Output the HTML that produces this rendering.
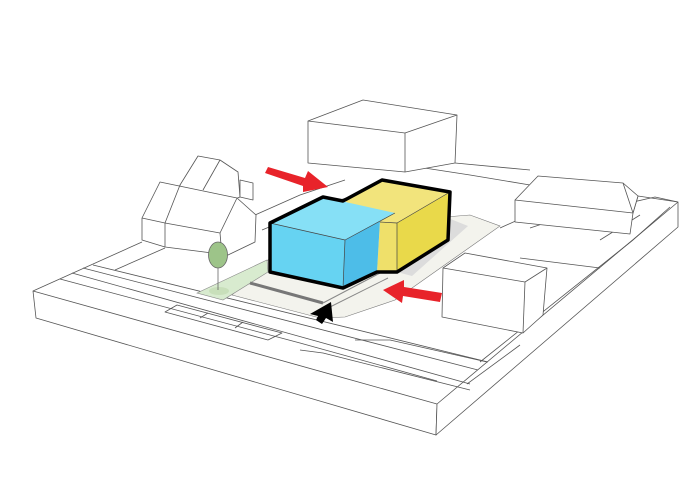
<!DOCTYPE html>
<html><head><meta charset="utf-8"><style>html,body{margin:0;padding:0;background:#fff}svg{display:block}</style></head>
<body>
<svg width="700" height="490" viewBox="0 0 700 490" xmlns="http://www.w3.org/2000/svg">
<g fill="none" stroke="#555" stroke-width="0.8" stroke-linejoin="round">
<polygon points="33,291 36,318 436,435 437,404" fill="#fff"/>
<polygon points="437,404 436,435 678,227 678,202" fill="#fff"/>
<line x1="33" y1="291" x2="142" y2="242"/>
<polyline points="638,196 678,202"/>
<polyline points="620,205 655,197 678,202"/>
<polyline points="60,279 300,343 437,381"/>
<polyline points="72,273 470,384"/>
<polyline points="83,268 478,370"/>
<polyline points="93,265 488,362"/>
<polyline points="115,270 165,248"/>
<polyline points="355,340 390,340 487,362"/>
<polyline points="480,362 633,240 670,207"/>
<polyline points="467,384 520,345"/>
<polyline points="300,350 323,353 470,390"/>
<polygon points="165,312 177,305 282,333 268,340"/>
<line x1="200" y1="318" x2="208" y2="313"/><line x1="235" y1="328" x2="243" y2="322"/>
<polyline points="255,215 300,195 345,180"/>
<polyline points="262,230 310,210 355,195"/>
<polyline points="405,165 470,175 530,185"/>
<polyline points="455,163 530,170"/>
<polyline points="500,228 540,210 560,195 590,185"/>
<polyline points="530,228 600,205"/>
<polyline points="600,240 640,215"/>
<polyline points="520,258 600,268"/>
</g>
<polygon points="232,295 268,260 345,225 470,215 500,226 395,300 345,317 320,318" fill="#f3f3ed" stroke="#777" stroke-width="0.6"/>
<polygon points="197,293 267,260 268,272 223,300" fill="#d8ebcf" stroke="#888" stroke-width="0.6"/>
<ellipse cx="219" cy="291" rx="10" ry="4" fill="#c8dfba"/>
<polygon points="448,218 468,226 412,276 397,272 448,240" fill="#dcdcdc"/>
<polyline points="250,283 323,303" stroke="#777" stroke-width="3" fill="none"/>
<polyline points="323,303 382,272" stroke="#888" stroke-width="1" fill="none"/>
<polyline points="328,308 388,278" stroke="#888" stroke-width="1" fill="none"/>
<g fill="#fff" stroke="#555" stroke-width="0.8" stroke-linejoin="round">
<polygon points="180,185 198,156 220,160 238,172 240,197 220,205 180,195"/>
<line x1="220" y1="160" x2="203" y2="190"/>
<polygon points="240,180 253,183 253,200 240,197"/>
<polygon points="142,218 160,182 237,198 256,215 255,242 228,255 165,247 142,240"/>
<polyline points="142,218 165,223 220,233 237,198"/>
<polyline points="165,223 180,185"/>
<line x1="165" y1="223" x2="165" y2="247"/>
<polyline points="220,233 222,256"/>
<polygon points="308,121 363,100 457,115 455,163 405,172 308,163"/>
<polyline points="308,121 405,133 457,115"/>
<line x1="405" y1="133" x2="405" y2="172"/>
<polygon points="515,200 538,176 623,183 638,196 633,213 630,234 515,222"/>
<polyline points="515,200 633,213 638,196"/>
<line x1="623" y1="183" x2="633" y2="213"/>
<polygon points="443,268 465,253 547,268 543,315 523,333 442,317"/>
<polyline points="443,268 525,282 547,268"/>
<line x1="525" y1="282" x2="523" y2="333"/>
</g>
<line x1="218" y1="266" x2="218" y2="290" stroke="#666" stroke-width="0.8"/>
<ellipse cx="218" cy="255" rx="9.5" ry="13" fill="#9dc489" stroke="#666" stroke-width="0.8"/>
<g stroke-linejoin="round">
<polygon points="380,222 397,223 397,272 377,272" fill="#efe06a"/>
<polygon points="397,223 450,192 448,240 397,272" fill="#e9d94a"/>
<polygon points="343,200 382,180 450,192 397,223 380,222" fill="#f2e47c"/>
<polygon points="270,223 345,240 343,288 270,272" fill="#66d3f2"/>
<polygon points="345,240 380,220 377,272 343,288" fill="#4dbde8"/>
<polygon points="270,223 323,197 395,213 345,240" fill="#86e0f6"/>
<g fill="none" stroke="#444" stroke-width="0.7">
<polyline points="270,223 345,240 395,213"/><line x1="345" y1="240" x2="343" y2="288"/>
<polyline points="380,222 397,223 450,192"/><line x1="397" y1="223" x2="397" y2="272"/>
</g>
<polygon points="270,223 323,197 343,201 382,180 450,192 448,240 397,272 377,272 343,288 270,272" fill="none" stroke="#000" stroke-width="3.5"/>
</g>
<polygon points="265,173 268,167 305,178 308,171 328,187 303,192 303,186" fill="#e8232a"/>
<polygon points="383,290 404,280 404,287 442,293 440,302 403,296 402,303" fill="#e8232a"/>
<polygon points="310,314 331,302 333,322 326,318 322,324 316,320 318,316" fill="#000"/>
</svg>
</body></html>
